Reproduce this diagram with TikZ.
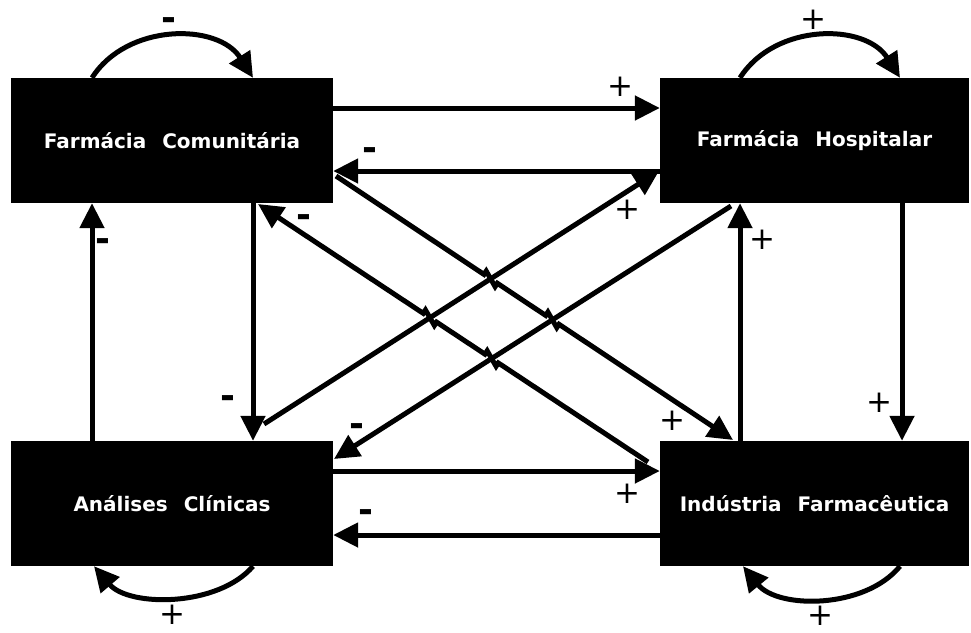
\documentclass[tikz,border=0pt]{standalone}
\usepackage{fontspec}
\setmainfont{DejaVu Sans}
\usetikzlibrary{arrows.meta,calc}
\begin{document}
\begin{tikzpicture}[x=1pt,y=-1pt,
  box/.style={fill=black,text=white,inner sep=0pt,
    font=\bfseries\fontsize{20}{24}\selectfont},
  link/.style={line width=5pt,-{Triangle[length=25pt,width=24pt]}},
  plussign/.style={inner sep=0pt,font=\fontsize{31}{36}\selectfont},
  minussign/.style={inner sep=0pt,font=\bfseries\fontsize{36}{40}\selectfont},
  % small step where a line crosses another one
  jumpover/.style n args={3}{insert path={
    -- ($(#1)!8pt!(#2)$) -- ($(#1)!8pt!(#2)!4pt!90:(#1)$)
    -- ($(#1)!8pt!(#3)!4pt!90:(#1)$) -- ($(#1)!8pt!(#3)$)}}
]
\useasboundingbox (0,0) rectangle (971,632);

% the four sectors
\node[box,minimum width=322pt,minimum height=125pt] (fc) at (172,140.5)
  {Farmácia\hspace{9pt} Comunitária};
\node[box,minimum width=309pt,minimum height=125pt] (fh) at (814.5,140.5)
  {Farmácia\hspace{9pt} Hospitalar};
\node[box,minimum width=322pt,minimum height=125pt] (ac) at (172,503.5)
  {Análises\hspace{9pt} Clínicas};
\node[box,minimum width=309pt,minimum height=125pt] (ind) at (814.5,503.5)
  {Indústria\hspace{9pt} Farmacêutica};

% horizontal links
\draw[link] ($(fc.east)+(0,-32.5)$) -- ($(fh.west)+(0,-32.5)$);
\draw[link] ($(fh.west)+(0,30.5)$) -- ($(fc.east)+(0,30.5)$);
\draw[link] ($(ac.east)+(0,-32.5)$) -- ($(ind.west)+(0,-32.5)$);
\draw[link] ($(ind.west)+(0,31.5)$) -- ($(ac.east)+(0,31.5)$);

% vertical links
\draw[link] ($(ac.north)+(-80,0)$) -- ($(fc.south)+(-80,0)$);
\draw[link] ($(fc.south)+(81,0)$) -- ($(ac.north)+(81,0)$);
\draw[link] ($(ind.north)+(-74.5,0)$) -- ($(fh.south)+(-74.5,0)$);
\draw[link] ($(fh.south)+(87.5,0)$) -- ($(ind.north)+(87.5,0)$);

% self loops
\draw[link] ($(fc.north)+(-80,0)$) .. controls +(35,-55) and +(-35,-55) .. ($(fc.north)+(81,0)$);
\draw[link] ($(fh.north)+(-74.5,0)$) .. controls +(35,-55) and +(-35,-55) .. ($(fh.north)+(85.5,0)$);
\draw[link] ($(ac.south)+(81,0)$) .. controls +(-35,41) and +(35,41) .. ($(ac.south)+(-78,0)$);
\draw[link] ($(ind.south)+(85.5,0)$) .. controls +(-35,43) and +(35,43) .. ($(ind.south)+(-71.5,0)$);

% diagonal links
\coordinate (c1) at (336,176);  \coordinate (c2) at (733,440);
\coordinate (d1) at (648,462);  \coordinate (d2) at (258,204);
\coordinate (a1) at (264,424);  \coordinate (a2) at (659,171);
\coordinate (b1) at (731,206);  \coordinate (b2) at (334,459);
\coordinate (ca) at (intersection of c1--c2 and a1--a2);
\coordinate (cb) at (intersection of c1--c2 and b1--b2);
\coordinate (da) at (intersection of d1--d2 and a1--a2);
\coordinate (db) at (intersection of d1--d2 and b1--b2);

\draw[link] (a1) -- (a2);
\draw[link] (b1) -- (b2);
\draw[link] (c1) [jumpover={ca}{c1}{c2}] [jumpover={cb}{c1}{c2}] -- (c2);
\draw[link] (d1) [jumpover={db}{d1}{d2}] [jumpover={da}{d1}{d2}] -- (d2);

% signs
\node[minussign] (s1) at (169,24) {-};
\node[plussign] (s2) at (813,20) {+};
\node[plussign] (s3) at (620,87) {+};
\node[minussign] (s4) at (370,154) {-};
\node[plussign] (s5) at (627,210) {+};
\node[minussign] (s6) at (304,221) {-};
\node[minussign] (s7) at (103,245) {-};
\node[plussign] (s8) at (762,240) {+};
\node[minussign] (s9) at (228,402) {-};
\node[plussign] (s10) at (879,403) {+};
\node[minussign] (s11) at (357,430) {-};
\node[plussign] (s12) at (672,421) {+};
\node[plussign] (s13) at (627,494) {+};
\node[minussign] (s14) at (366,516) {-};
\node[plussign] (s15) at (172,615) {+};
\node[plussign] (s16) at (820,616) {+};
\end{tikzpicture}
\end{document}
